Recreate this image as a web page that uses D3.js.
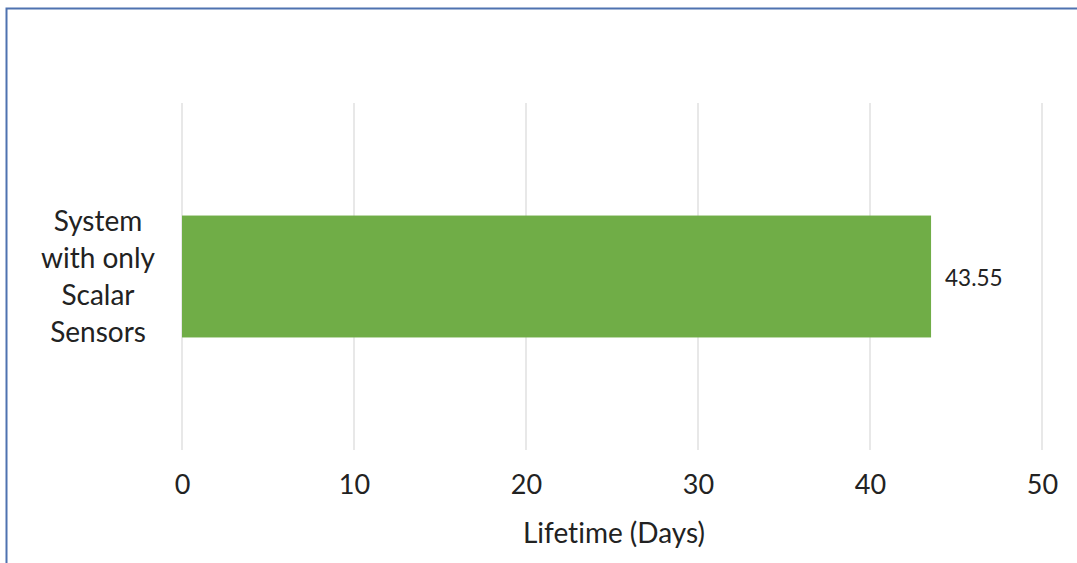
<!DOCTYPE html>
<html>
<head>
<meta charset="utf-8">
<script src="https://cdn.jsdelivr.net/npm/d3@7"></script>
<style>
  html, body { margin: 0; padding: 0; background: #fff; }
  svg { display: block; }
  text { font-family: Lato, "Open Sans", "Liberation Sans", sans-serif; fill: #222; font-variant-ligatures: none; }
</style>
</head>
<body>
<svg id="chart" width="1077" height="563"></svg>
<script>
// Chart data
const categories = ["System with only Scalar Sensors"];
const categoryLines = [["System", "with only", "Scalar", "Sensors"]];
const lifetimeDays = [43.55];
const xTicks = [0, 10, 20, 30, 40, 50];
const xTitle = "Lifetime (Days)";

const svg = d3.select("#chart");
const W = 1077, H = 563;
const FONT = "Lato, 'Open Sans', 'Liberation Sans', sans-serif";

// Frame around the chart area
svg.append("rect")
  .attr("x", 6.5).attr("y", 8.5)
  .attr("width", W + 10).attr("height", H + 10)
  .attr("fill", "#fff")
  .attr("stroke", "#4f72b0").attr("stroke-width", 2);

const plot = { left: 182, right: 1042, top: 103, bottom: 450 };

const x = d3.scaleLinear().domain([0, 50]).range([plot.left, plot.right]);
const y = d3.scaleBand().domain(categories).range([plot.top, plot.bottom]).padding(0.48);

// Vertical gridlines
svg.append("g")
  .selectAll("line")
  .data(xTicks)
  .join("line")
  .attr("x1", d => x(d)).attr("x2", d => x(d))
  .attr("y1", plot.top).attr("y2", plot.bottom)
  .attr("stroke", "#d9d9d9").attr("stroke-width", 1.2);

// Bars
svg.append("g")
  .selectAll("rect")
  .data(lifetimeDays)
  .join("rect")
  .attr("x", x(0))
  .attr("y", (d, i) => y(categories[i]))
  .attr("width", d => x(d) - x(0))
  .attr("height", y.bandwidth())
  .attr("fill", "#70ad47");

// Value labels
svg.append("g")
  .selectAll("text")
  .data(lifetimeDays)
  .join("text")
  .attr("x", d => x(d) + 14)
  .attr("y", (d, i) => y(categories[i]) + y.bandwidth() / 2 + 2)
  .attr("dy", "0.35em")
  .attr("font-size", 22.5)
  .text(d => d.toFixed(2));

// X axis tick labels (no axis line)
const xAxis = d3.axisBottom(x).tickValues(xTicks).tickSize(0).tickPadding(0);
const gx = svg.append("g").attr("transform", `translate(0, ${plot.bottom + 25})`).call(xAxis);
gx.select(".domain").remove();
gx.selectAll("text")
  .attr("font-size", 27)
  .attr("font-family", FONT)
  .attr("fill", "#222");

// Category labels, wrapped
const catG = svg.append("g");
categories.forEach((c, i) => {
  const lines = categoryLines[i];
  const cy = y(c) + y.bandwidth() / 2;
  const lh = 37;
  const t = catG.append("text")
    .attr("text-anchor", "middle")
    .attr("font-size", 28);
  lines.forEach((ln, j) => {
    t.append("tspan")
      .attr("x", 98)
      .attr("y", cy + (j - (lines.length - 1) / 2) * lh)
      .attr("dy", "0.35em")
      .text(ln);
  });
});

// Axis title
svg.append("text")
  .attr("x", (plot.left + plot.right) / 2 + 2)
  .attr("y", 533)
  .attr("dy", "0.35em")
  .attr("text-anchor", "middle")
  .attr("font-size", 28)
  .text(xTitle);
</script>
</body>
</html>
